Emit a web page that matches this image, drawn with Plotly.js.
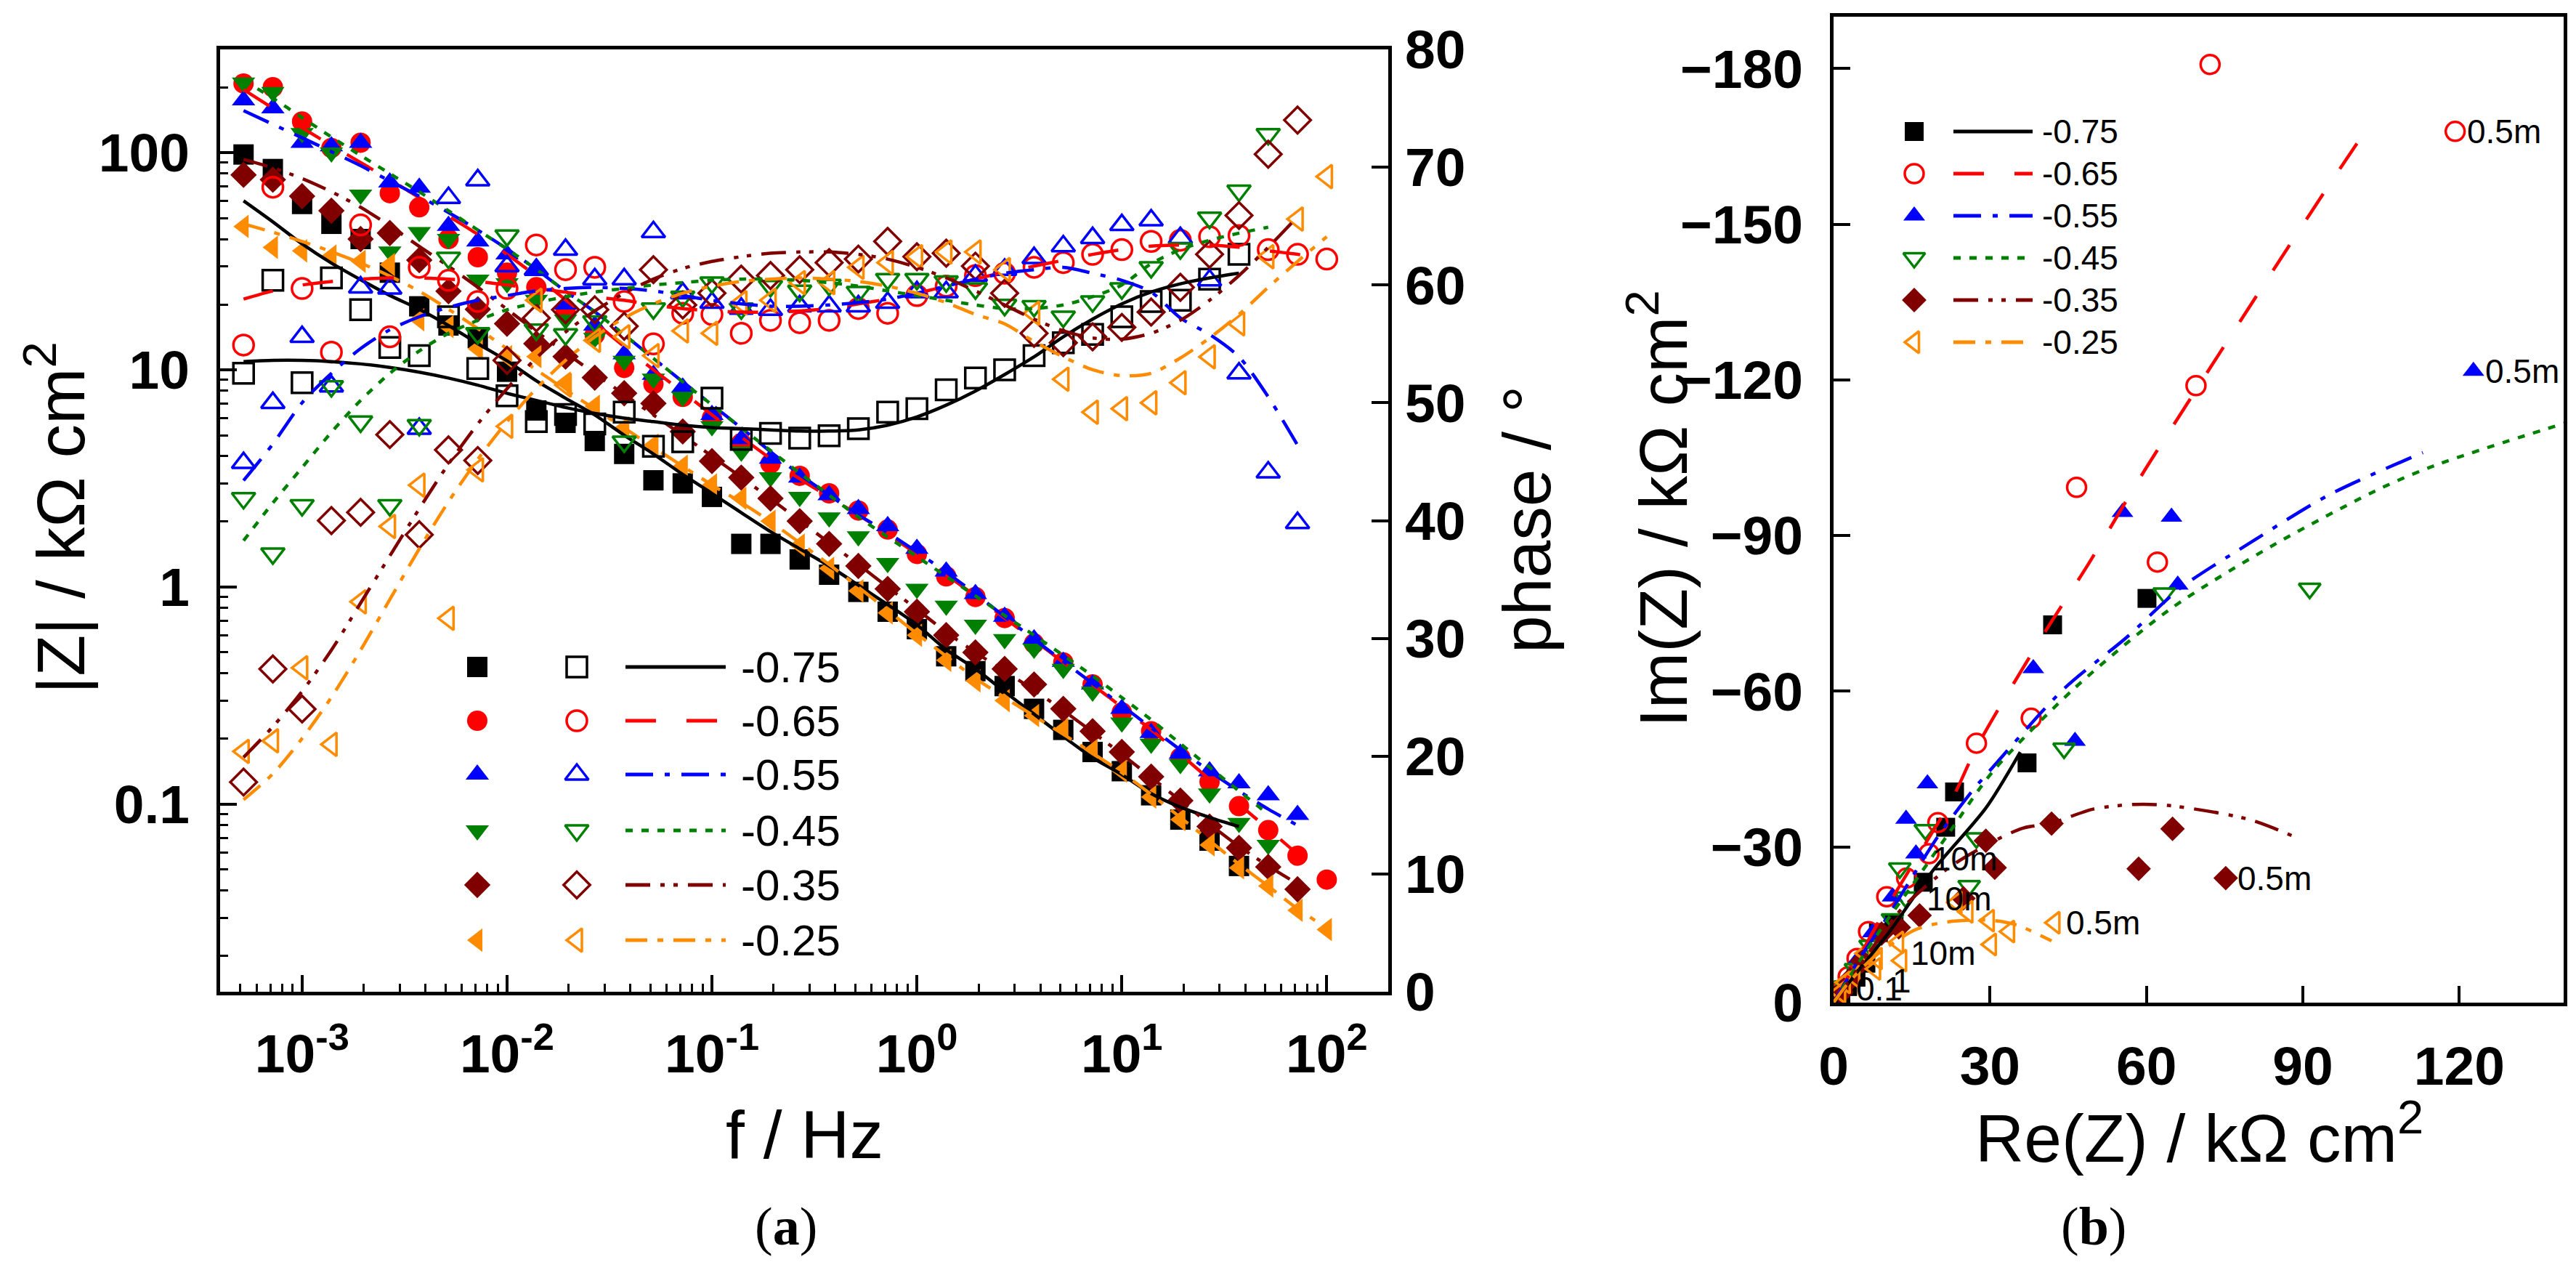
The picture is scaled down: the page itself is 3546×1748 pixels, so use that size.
<!DOCTYPE html>
<html><head><meta charset="utf-8">
<script src="https://cdn.plot.ly/plotly-3.0.1.min.js"></script>
<style>html,body{margin:0;padding:0;background:#fff}#chart{width:3546px;height:1748px}</style>
</head><body><div id="chart"></div>
<script>
// ---------------- DATA ----------------
const seriesLabels = ['-0.75', '-0.65', '-0.55', '-0.45', '-0.35', '-0.25'];
const freqHz = [0.000518, 0.000720, 0.001, 0.00139, 0.00193, 0.00268, 0.00373, 0.00518, 0.00720, 0.01,
  0.0139, 0.0193, 0.0268, 0.0373, 0.0518, 0.0720, 0.1, 0.139, 0.193, 0.268,
  0.373, 0.518, 0.720, 1, 1.39, 1.93, 2.68, 3.73, 5.18, 7.20,
  10, 13.9, 19.3, 26.8, 37.3, 51.8, 72.0, 100];

// |Z| (kOhm cm2), measured
const absZ_m075 = [98, 84, 58, 47, 40, 28, 19.6, 16, 14, 9.8, 6.5, 5.7, 4.7, 4.1, 3.1, 3.0, 2.6, 1.58, 1.58, 1.34,
  1.14, 0.95, 0.77, 0.64, 0.48, 0.41, 0.35, 0.275, 0.22, 0.174, 0.142, 0.11, 0.085, 0.068, 0.052];
const absZ_m065 = [208, 200, 139, 105, 111, 65, 56, 40, 33, 28, 24, 19, 14.5, 10.2, 8.6, 7.5, 6.0, 4.6, 3.7, 3.25,
  2.7, 2.25, 1.84, 1.42, 1.12, 0.9, 0.72, 0.55, 0.45, 0.356, 0.265, 0.217, 0.164, 0.127, 0.098, 0.076, 0.058, 0.045];
const absZ_m055 = [174, 160, 111, 107, 111, 73, 69, 46, 39, 34, 28.5, 20, 16, 11.8, 9.5, 8.3, 6.2, 4.8, 3.9, 3.19,
  2.65, 2.29, 1.91, 1.5, 1.18, 0.93, 0.73, 0.575, 0.453, 0.356, 0.275, 0.213, 0.171, 0.142, 0.125, 0.11, 0.0895];
const absZ_m045 = [210, 190, 123, 100, 64, 35, 43, 40, 26, 25, 21, 17, 14, 11, 9.1, 7.5, 5.5, 4.2, 3.2, 2.6,
  2.09, 1.71, 1.29, 0.98, 0.82, 0.67, 0.575, 0.52, 0.42, 0.33, 0.238, 0.19, 0.153, 0.112, 0.082, 0.065];
const absZ_m035 = [79, 75, 63, 54, 40, 42.6, 32, 23, 19, 16.3, 13.2, 11.5, 9.2, 7.8, 7.0, 5.2, 3.8, 3.19, 2.56, 2.01,
  1.58, 1.25, 0.98, 0.77, 0.60, 0.50, 0.42, 0.356, 0.275, 0.217, 0.174, 0.134, 0.104, 0.079, 0.063, 0.0515, 0.0406];
const absZ_m025 = [45.7, 36.6, 35.3, 33.4, 31.6, 30.5, 17, 15.8, 12.5, 11.5, 11.5, 8.7, 6.8, 5.4, 4.5, 3.6, 2.95, 2.56, 2.01, 1.56,
  1.22, 0.96, 0.76, 0.60, 0.46, 0.37, 0.30, 0.256, 0.221, 0.177, 0.142, 0.108, 0.085, 0.065, 0.051, 0.042, 0.0325, 0.0265];

// phase (deg), measured
const phase_m075 = [52.5, 60.4, 51.7, 60.6, 57.9, 54.7, 54.0, 57.3, 52.9, 50.6, 48.4, 49.0, 48.2, 49.2, 46.3, 46.7, 50.4, 46.9, 47.4, 47.0,
  47.2, 47.8, 49.2, 49.5, 51.1, 52.1, 52.8, 54.0, 55.1, 55.8, 57.3, 58.6, 58.7, 60.5, 62.6];
const phase_m065 = [54.9, 68.3, 59.7, 54.3, 65.1, 55.6, 61.5, 60.4, 58.6, 59.7, 63.4, 61.3, 61.5, 58.6, 55.0, 57.6, 57.5, 55.9, 57.0, 56.8,
  57.0, 58.0, 57.6, 59.1, 59.9, 60.8, 61.0, 61.5, 61.9, 62.6, 63.0, 63.7, 63.8, 64.1, 64.2, 63.0, 62.6, 62.2];
const phase_m055 = [44.9, 50.0, 55.6, 51.4, 59.8, 59.7, 47.8, 67.4, 68.9, 61.6, 61.3, 63.0, 60.5, 60.5, 64.5, 59.3, 58.5, 58.0, 57.9, 58.2,
  58.2, 58.2, 58.5, 59.4, 59.4, 60.8, 61.3, 62.3, 63.3, 64.0, 65.1, 65.5, 64.0, 60.4, 52.5, 44.1, 39.8];
const phase_m045 = [41.9, 37.2, 41.3, 51.4, 48.4, 41.3, 48.1, 62.3, 55.9, 64.2, 56.2, 55.8, 56.9, 46.7, 58.0, 59.0, 60.2, 58.0, 59.9, 59.5,
  60.0, 59.4, 60.5, 60.5, 60.3, 59.7, 58.3, 58.2, 57.3, 58.6, 59.7, 61.5, 63.1, 65.7, 68.0, 72.8];
const phase_m035 = [17.8, 27.4, 24.0, 40.0, 40.7, 47.3, 38.8, 46.0, 45.1, 53.6, 57.2, 57.9, 57.9, 56.5, 61.3, 58.3, 59.3, 60.5, 60.8, 61.3,
  61.9, 62.2, 63.7, 62.4, 62.7, 61.6, 59.3, 55.9, 55.1, 55.6, 56.4, 57.7, 59.8, 62.6, 65.9, 71.1, 74.0];
const phase_m025 = [20.4, 21.3, 27.5, 21.0, 33.1, 39.5, 43.0, 31.7, 44.3, 48.0, 58.7, 51.5, 55.3, 55.6, 54.0, 56.1, 55.9, 58.5, 58.7, 60.2,
  60.2, 61.5, 61.9, 62.4, 62.8, 62.8, 61.3, 57.6, 52.0, 49.2, 49.5, 50.0, 51.7, 53.9, 56.7, 62.4, 65.6, 69.2];

// fitted |Z|
const absZfit_m075 = [60, 48, 38, 31, 26, 22, 19, 16, 13.2, 11, 8.9, 7.4, 6.2, 5.0, 4.1, 3.3, 2.7, 2.2, 1.8, 1.5,
  1.25, 1.02, 0.83, 0.67, 0.515, 0.42, 0.33, 0.26, 0.205, 0.164, 0.137, 0.112, 0.097, 0.087, 0.079];
const absZfit_m065 = [195, 160, 130, 108, 90, 75, 62, 51, 42, 34, 27, 21, 16.5, 12.8, 10, 7.9, 6.2, 4.9, 3.9, 3.15,
  2.6, 2.15, 1.75, 1.42, 1.14, 0.91, 0.72, 0.57, 0.45, 0.355, 0.28, 0.22, 0.17, 0.13, 0.1, 0.077, 0.059, 0.046];
const absZfit_m055 = [156, 135, 117, 101, 87, 74, 63, 53, 44, 36, 29, 23, 18.5, 14.5, 11.3, 8.8, 6.9, 5.4, 4.2, 3.3,
  2.65, 2.15, 1.78, 1.45, 1.17, 0.93, 0.73, 0.575, 0.455, 0.36, 0.285, 0.225, 0.178, 0.142, 0.115, 0.095, 0.08];
const absZfit_m045 = [215, 178, 145, 118, 97, 80, 66, 54, 44, 36, 29, 23, 18.5, 14.5, 11.3, 8.8, 6.9, 5.4, 4.25, 3.35,
  2.65, 2.1, 1.7, 1.38, 1.12, 0.91, 0.74, 0.6, 0.485, 0.39, 0.31, 0.245, 0.19, 0.148, 0.115, 0.09];
const absZfit_m035 = [93, 85, 76, 66, 56, 46, 37, 30, 24, 19, 15, 12, 9.6, 7.7, 6.2, 5.0, 4.0, 3.2, 2.55, 2.02,
  1.6, 1.27, 1.0, 0.79, 0.62, 0.5, 0.41, 0.335, 0.27, 0.215, 0.17, 0.133, 0.104, 0.081, 0.064, 0.052, 0.043];
const absZfit_m025 = [47, 43, 39, 35, 31, 27, 23, 19, 15.5, 12.5, 10, 8.1, 6.6, 5.4, 4.4, 3.6, 2.95, 2.45, 2.0, 1.6,
  1.27, 1.0, 0.78, 0.61, 0.48, 0.38, 0.31, 0.255, 0.21, 0.172, 0.14, 0.111, 0.087, 0.068, 0.053, 0.042, 0.033, 0.027];

// fitted phase
const phaseFit_m075 = [53.5, 53.6, 53.6, 53.5, 53.3, 53.0, 52.6, 52.1, 51.5, 50.8, 50.2, 49.6, 49.1, 48.7, 48.4, 48.1, 47.9, 47.8, 47.7, 47.6,
  47.6, 47.7, 48.1, 48.8, 49.8, 51.0, 52.4, 53.9, 55.6, 57.1, 58.4, 59.4, 60.1, 60.6, 61.0];
const phaseFit_m065 = [58.8, 59.5, 60.0, 60.3, 60.5, 60.6, 60.6, 60.5, 60.3, 60.0, 59.7, 59.4, 59.0, 58.7, 58.3, 58.0, 57.8, 57.7, 57.7, 57.8,
  58.0, 58.4, 58.8, 59.3, 59.9, 60.5, 61.1, 61.6, 62.1, 62.6, 63.0, 63.3, 63.4, 63.4, 63.2, 62.9, 62.6, 62.2];
const phaseFit_m055 = [43.4, 46.5, 50.0, 52.5, 54.6, 56.2, 57.3, 58.1, 58.7, 59.1, 59.5, 59.7, 59.8, 59.7, 59.5, 59.1, 58.7, 58.4, 58.2, 58.2,
  58.3, 58.5, 58.8, 59.3, 59.9, 60.5, 61.0, 61.3, 61.5, 61.0, 60.4, 59.4, 57.2, 55.8, 53.9, 50.5, 46.4];
const phaseFit_m045 = [38.3, 41.5, 44.5, 47.5, 50.2, 52.5, 54.4, 55.9, 57.0, 57.9, 58.5, 59.0, 59.4, 59.7, 60.0, 60.2, 60.4, 60.5, 60.5, 60.4,
  60.2, 59.9, 59.5, 59.1, 58.7, 58.3, 58.0, 58.0, 58.3, 59.0, 60.0, 61.8, 63.0, 63.8, 64.4, 64.9];
const phaseFit_m035 = [19.9, 22.5, 25.5, 29.0, 33.0, 37.0, 41.0, 44.8, 48.2, 51.2, 53.8, 56.0, 57.8, 59.3, 60.5, 61.4, 62.0, 62.4, 62.7, 62.8,
  62.8, 62.6, 62.2, 61.5, 60.6, 59.5, 58.3, 57.1, 56.1, 55.5, 55.4, 55.9, 57.0, 58.7, 60.8, 63.2, 65.8];
const phaseFit_m025 = [16.3, 18.5, 21.5, 25.0, 29.0, 33.3, 37.6, 41.6, 45.2, 48.4, 51.2, 53.6, 55.6, 57.2, 58.4, 59.3, 59.9, 60.3, 60.5, 60.6,
  60.5, 60.3, 59.9, 59.3, 58.5, 57.5, 56.7, 55.2, 53.9, 52.8, 52.3, 52.5, 53.8, 55.5, 57.5, 59.8, 62.0, 64.1];

// Nyquist, measured (Re, Im in kOhm cm2)
const re_m075 = [60.1, 42.0, 37.1, 23.2, 21.5, 17.2, 11.6, 8.6, 6.2, 4.3, 2.7, 1.4];
const im_m075 = [-77.9, -72.8, -46.2, -40.6, -33.8, -23.2, -15.1, -13.5, -7.6, -4.9, -3.1, -1.5];
const re_m065 = [119.2, 72.2, 69.5, 62.1, 46.6, 37.9, 27.4, 20.0, 18.3, 14.0, 10.2, 6.7, 4.5, 2.8, 1.5];
const im_m065 = [-167.9, -180.8, -118.9, -84.9, -99.3, -54.8, -50.0, -34.7, -28.7, -24.0, -20.4, -13.7, -8.5, -5.0, -2.5];
const re_m055 = [122.7, 64.8, 66.0, 55.4, 38.3, 46.3, 18.0, 13.9, 15.8, 11.3, 7.5, 4.8, 3.0, 1.6];
const im_m055 = [-121.7, -93.6, -80.5, -94.5, -64.4, -50.4, -42.2, -35.4, -28.7, -20.4, -13.5, -8.5, -5.0, -2.5];
const re_m045 = [91.3, 63.4, 44.2, 26.0, 27.4, 17.6, 12.7, 13.8, 11.3, 7.0, 4.2, 2.2];
const im_m045 = [-79.8, -78.9, -49.0, -22.5, -31.7, -33.3, -25.9, -20.3, -16.1, -11.0, -6.5, -3.2];
const re_m035 = [75.2, 65.0, 58.5, 41.8, 30.9, 29.2, 24.9, 16.5, 12.5, 9.2, 5.5, 3.2, 1.5];
const im_m035 = [-24.0, -33.5, -25.8, -34.5, -26.0, -31.2, -20.1, -16.8, -14.5, -13.3, -8.0, -4.5, -2.0];
const re_m025 = [42.4, 33.7, 29.8, 30.2, 25.7, 23.6, 12.4, 13.0, 8.3, 8.0, 6.0, 4.0, 2.2, 1.3];
const im_m025 = [-15.4, -13.7, -15.8, -11.2, -17.5, -19.3, -11.6, -8.1, -8.5, -6.5, -9.5, -5.0, -3.9, -2.0];

// Nyquist fits
const reFit_m075 = [0, 2, 5, 10.6, 19, 29.2, 35.8];
const imFit_m075 = [0, -2.6, -6.5, -13.5, -25.4, -37.5, -48.3];
const reFit_m065 = [0, 5, 10, 16, 22.8, 27.7, 39.9, 49.1, 59.3, 65.5, 75.2, 85.5, 95.1, 102.2];
const imFit_m065 = [0, -9, -18, -28, -39.4, -49.7, -70.4, -84.9, -102, -111.8, -127, -143, -157.7, -168.3];
const reFit_m055 = [0, 5, 10, 14.4, 20, 27, 29.7, 44.1, 56.2, 66.4, 79.7, 95.1, 113];
const imFit_m055 = [0, -8.5, -16, -23.1, -32, -41.3, -44.4, -60.4, -70.4, -79.8, -88.5, -97.9, -106];
const reFit_m045 = [0, 5, 10, 15, 22, 30.5, 46, 64.5, 84.9, 105.3, 115.5, 140.6];
const imFit_m045 = [0, -8, -15.5, -22.5, -32.5, -44.5, -60.4, -75.8, -88.5, -99.3, -103.6, -111.8];
const reFit_m035 = [0, 5, 13, 22.1, 29.2, 36.2, 41.8, 49.8, 57.8, 64.2, 79.7, 89];
const imFit_m035 = [0, -7, -18, -26, -30.3, -33.6, -34.6, -37.3, -38.2, -38, -35.3, -31.7];
const reFit_m025 = [0, 3, 8, 15.8, 21.4, 29.6, 35, 41.8];
const imFit_m025 = [0, -4, -9, -14.1, -15.5, -15.9, -15, -11.9];

// frequency annotations in the Nyquist plot
const nyqNoteText = ['10m', '10m', '10m', '0.1', '1', '10'];
const nyqNoteRe = [18.6, 17.5, 14.5, 4.0, 11.0, 3.0];
const nyqNoteIm = [-27.7, -20.0, -9.5, -2.6, -4.2, 0.6];

// axis ticks
const freqTickVals = [0.001, 0.01, 0.1, 1, 10, 100];
const freqTickText = ['10<sup>-3</sup>', '10<sup>-2</sup>', '10<sup>-1</sup>', '10<sup>0</sup>', '10<sup>1</sup>', '10<sup>2</sup>'];
const zTickVals = [0.1, 1, 10, 100];
const zTickText = ['0.1', '1', '10', '100'];

// ---------------- STYLE ----------------
const W = 3546, H = 1748;
const colors = ['#000000', '#ff0000', '#0000ff', '#008000', '#800000', '#ff8c00'];
const filledSym = ['square', 'circle', 'triangle-up', 'triangle-down', 'diamond', 'triangle-left'];
const openSym = ['square-open', 'circle-open', 'triangle-up-open', 'triangle-down-open', 'diamond-open', 'triangle-left-open'];
const nyqSym = ['square', 'circle-open', 'triangle-up', 'triangle-down-open', 'diamond', 'triangle-left-open'];
const dashes = ['solid', '42px,42px', '38px,16px,7px,16px', '10px,12px', '34px,14px,6px,12px,6px,14px', '30px,14px,8px,14px'];
const FONT = 'Liberation Sans, Arial, sans-serif';

const absZ = [absZ_m075, absZ_m065, absZ_m055, absZ_m045, absZ_m035, absZ_m025];
const phase = [phase_m075, phase_m065, phase_m055, phase_m045, phase_m035, phase_m025];
const absZfit = [absZfit_m075, absZfit_m065, absZfit_m055, absZfit_m045, absZfit_m035, absZfit_m025];
const phaseFit = [phaseFit_m075, phaseFit_m065, phaseFit_m055, phaseFit_m045, phaseFit_m035, phaseFit_m025];
const reZ = [re_m075, re_m065, re_m055, re_m045, re_m035, re_m025];
const imZ = [im_m075, im_m065, im_m055, im_m045, im_m035, im_m025];
const reFit = [reFit_m075, reFit_m065, reFit_m055, reFit_m045, reFit_m035, reFit_m025];
const imFit = [imFit_m075, imFit_m065, imFit_m055, imFit_m045, imFit_m035, imFit_m025];

// legend placement (pixels)
const legA = {rows: [918, 992, 1066, 1143, 1218, 1294], filledX: 657, openX: 794, lineX: [861, 999], textX: 1018};
const legB = {rows: [181, 239, 297, 355, 413, 471], markX: 2635, lineX: [2689, 2798], textX: 2809};

const px = x => x / W;
const py = y => 1 - y / H;

const traces = [];
const MS = 28;
for (let i = 0; i < 6; i++) {
  traces.push({x: freqHz.slice(0, absZ[i].length), y: absZ[i], xaxis: 'x', yaxis: 'y', mode: 'markers', type: 'scatter',
    marker: {symbol: filledSym[i], size: MS, color: colors[i], line: {width: 0}}, name: seriesLabels[i]});
}
for (let i = 0; i < 6; i++) {
  traces.push({x: freqHz.slice(0, phase[i].length), y: phase[i], xaxis: 'x', yaxis: 'y2', mode: 'markers', type: 'scatter',
    marker: {symbol: openSym[i], size: MS, color: colors[i], line: {width: 3.5, color: colors[i]}}, name: seriesLabels[i]});
}
for (let i = 0; i < 6; i++) {
  traces.push({x: freqHz.slice(0, absZfit[i].length), y: absZfit[i], xaxis: 'x', yaxis: 'y', mode: 'lines', type: 'scatter',
    line: {color: colors[i], width: 4.5, dash: dashes[i], shape: 'spline', smoothing: 0.8}});
  traces.push({x: freqHz.slice(0, phaseFit[i].length), y: phaseFit[i], xaxis: 'x', yaxis: 'y2', mode: 'lines', type: 'scatter',
    line: {color: colors[i], width: 4.5, dash: dashes[i], shape: 'spline', smoothing: 0.8}});
}
// Nyquist
for (let i = 0; i < 6; i++) {
  traces.push({x: reZ[i], y: imZ[i], xaxis: 'x3', yaxis: 'y3', mode: 'markers', type: 'scatter',
    marker: {symbol: nyqSym[i], size: 26, color: colors[i], line: {width: nyqSym[i].includes('open') ? 3.5 : 0, color: colors[i]}}});
}
for (let i = 0; i < 6; i++) {
  traces.push({x: reFit[i], y: imFit[i], xaxis: 'x3', yaxis: 'y3', mode: 'lines', type: 'scatter',
    line: {color: colors[i], width: 4.5, dash: dashes[i], shape: 'spline', smoothing: 0.8}});
}
// legends (drawn on a pixel-coordinate overlay axis)
for (let i = 0; i < 6; i++) {
  const r = legA.rows[i];
  traces.push({x: [legA.filledX], y: [r], xaxis: 'x4', yaxis: 'y4', mode: 'markers', type: 'scatter', cliponaxis: false,
    marker: {symbol: filledSym[i], size: MS, color: colors[i], line: {width: 0}}});
  traces.push({x: [legA.openX], y: [r], xaxis: 'x4', yaxis: 'y4', mode: 'markers', type: 'scatter', cliponaxis: false,
    marker: {symbol: openSym[i], size: MS, color: colors[i], line: {width: 3.5, color: colors[i]}}});
  traces.push({x: legA.lineX, y: [r, r], xaxis: 'x4', yaxis: 'y4', mode: 'lines', type: 'scatter', cliponaxis: false,
    line: {color: colors[i], width: 5, dash: dashes[i]}});
  const r2 = legB.rows[i];
  traces.push({x: [legB.markX], y: [r2], xaxis: 'x4', yaxis: 'y4', mode: 'markers', type: 'scatter', cliponaxis: false,
    marker: {symbol: nyqSym[i], size: 26, color: colors[i], line: {width: nyqSym[i].includes('open') ? 3.5 : 0, color: colors[i]}}});
  traces.push({x: legB.lineX, y: [r2, r2], xaxis: 'x4', yaxis: 'y4', mode: 'lines', type: 'scatter', cliponaxis: false,
    line: {color: colors[i], width: 5, dash: dashes[i]}});
}

const annotations = [];
for (let i = 0; i < 6; i++) {
  annotations.push({xref: 'x4', yref: 'y4', x: legA.textX, y: legA.rows[i], text: seriesLabels[i], showarrow: false,
    xanchor: 'left', yanchor: 'middle', font: {family: FONT, size: 60, color: 'black'}});
  annotations.push({xref: 'x4', yref: 'y4', x: legB.textX, y: legB.rows[i], text: seriesLabels[i], showarrow: false,
    xanchor: 'left', yanchor: 'middle', font: {family: FONT, size: 46, color: 'black'}});
}
// 0.5 mHz labels at the lowest-frequency Nyquist points
[1, 2, 4, 5].forEach(i => {
  annotations.push({xref: 'x3', yref: 'y3', x: reZ[i][0], y: imZ[i][0], text: '0.5m', showarrow: false,
    xanchor: 'left', yanchor: 'middle', xshift: 14, font: {family: FONT, size: 46, color: 'black'}});
});
for (let j = 0; j < nyqNoteText.length; j++) {
  annotations.push({xref: 'x3', yref: 'y3', x: nyqNoteRe[j], y: nyqNoteIm[j], text: nyqNoteText[j], showarrow: false,
    xanchor: 'left', yanchor: 'middle', font: {family: FONT, size: 46, color: 'black'}});
}
const titleFont = {family: FONT, size: 93, color: 'black'};
const capFont = {family: 'Liberation Serif, Times New Roman, serif', size: 74, color: 'black'};
annotations.push(
  {xref: 'paper', yref: 'paper', x: px(77), y: py(713), text: '|Z| / kΩ cm<sup>2</sup>', textangle: -90, showarrow: false, xanchor: 'center', yanchor: 'middle', font: titleFont},
  {xref: 'paper', yref: 'paper', x: px(2102), y: py(715), text: 'phase / °', textangle: -90, showarrow: false, xanchor: 'center', yanchor: 'middle', font: titleFont},
  {xref: 'paper', yref: 'paper', x: px(1107), y: py(1562), text: 'f / Hz', showarrow: false, xanchor: 'center', yanchor: 'middle', font: titleFont},
  {xref: 'paper', yref: 'paper', x: px(2283), y: py(700), text: 'Im(Z) / kΩ cm<sup>2</sup>', textangle: -90, showarrow: false, xanchor: 'center', yanchor: 'middle', font: titleFont},
  {xref: 'paper', yref: 'paper', x: px(3027), y: py(1560), text: 'Re(Z) / kΩ cm<sup>2</sup>', showarrow: false, xanchor: 'center', yanchor: 'middle', font: titleFont},
  {xref: 'paper', yref: 'paper', x: px(1082), y: py(1688), text: '(<b>a</b>)', showarrow: false, xanchor: 'center', yanchor: 'middle', font: capFont},
  {xref: 'paper', yref: 'paper', x: px(2882), y: py(1688), text: '(<b>b</b>)', showarrow: false, xanchor: 'center', yanchor: 'middle', font: capFont}
);

const minorDecadeTicks = (lo, hi) => {
  const v = [];
  for (let e = lo; e <= hi; e++) for (let m = 2; m <= 9; m++) v.push(m * Math.pow(10, e));
  return v;
};
const tickFont = {family: FONT, size: 75, color: 'black', weight: 'bold'};
const axisBase = {showline: true, linewidth: 5, linecolor: 'black', mirror: true, ticks: 'inside', ticklen: 23, tickwidth: 4,
  tickcolor: 'black', showgrid: false, zeroline: false, tickfont: tickFont, fixedrange: true};

const layout = {
  width: W, height: H, margin: {l: 0, r: 0, t: 0, b: 0}, paper_bgcolor: 'white', plot_bgcolor: 'rgba(0,0,0,0)',
  showlegend: false, font: {family: FONT, color: 'black'},
  xaxis: Object.assign({}, axisBase, {domain: [px(303), px(1911)], type: 'log', range: [-3.40, 2.30], anchor: 'y',
    tickmode: 'array', tickvals: freqTickVals, ticktext: freqTickText, ticklabelstandoff: 16,
    minor: {tickmode: 'array', tickvals: minorDecadeTicks(-4, 2), ticks: 'inside', ticklen: 11, tickwidth: 3, tickcolor: 'black', showgrid: false}}),
  yaxis: Object.assign({}, axisBase, {domain: [py(1365), py(68)], type: 'log', range: [-1.863, 2.475], anchor: 'x',
    tickmode: 'array', tickvals: zTickVals, ticktext: zTickText, ticklabelstandoff: 22,
    minor: {tickmode: 'array', tickvals: minorDecadeTicks(-2, 2), ticks: 'inside', ticklen: 11, tickwidth: 3, tickcolor: 'black', showgrid: false}}),
  yaxis2: {overlaying: 'y', side: 'right', anchor: 'x', range: [0, 80], tickmode: 'linear', tick0: 0, dtick: 10, ticks: 'inside', ticklen: 23,
    tickwidth: 4, tickcolor: 'black', showline: false, showgrid: false, zeroline: false, tickfont: tickFont, ticklabelstandoff: 22, fixedrange: true},
  xaxis3: Object.assign({}, axisBase, {domain: [px(2524), px(3529)], range: [0, 140], tickmode: 'linear', tick0: 0, dtick: 30, anchor: 'y3', ticklabelstandoff: 18}),
  yaxis3: Object.assign({}, axisBase, {domain: [py(1380), py(23)], range: [0, -190], tickmode: 'linear', tick0: 0, dtick: 30, anchor: 'x3', ticklabelstandoff: 22}),
  xaxis4: {domain: [0, 1], range: [0, W], visible: false, anchor: 'y4', fixedrange: true},
  yaxis4: {domain: [0, 1], range: [H, 0], visible: false, anchor: 'x4', fixedrange: true},
  annotations: annotations
};

Plotly.newPlot('chart', traces, layout, {staticPlot: true, displayModeBar: false});
</script>
</body></html>
